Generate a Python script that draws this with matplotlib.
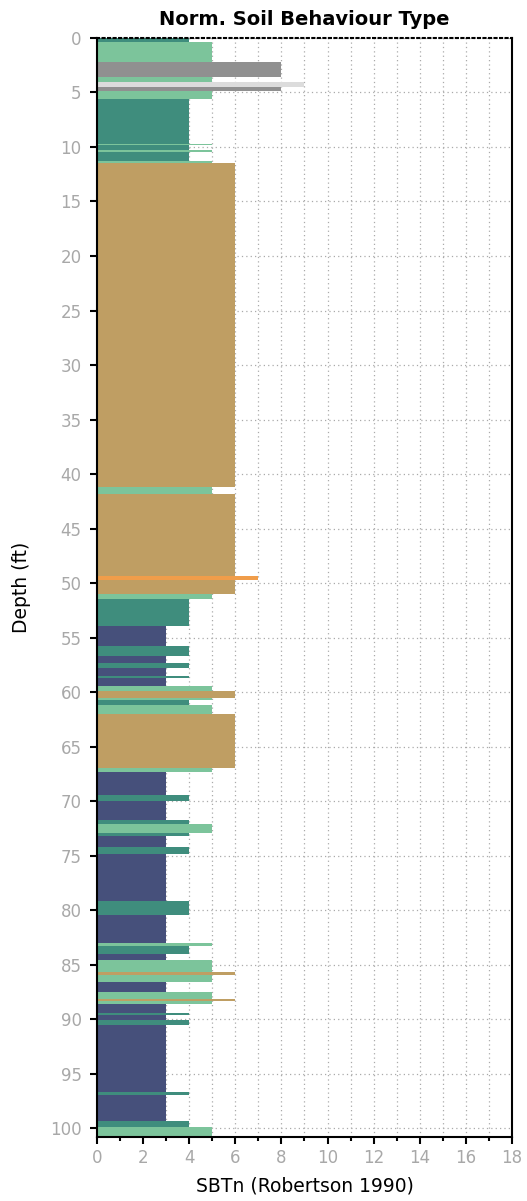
import matplotlib
matplotlib.use('Agg')
from matplotlib import pyplot as plt
from matplotlib.ticker import MultipleLocator

# layer tops (ft) and SBTn zone; each layer ends where the next begins
tops = [0.0, 0.4, 2.2, 3.55, 4.0, 4.5, 4.9, 5.6, 9.7, 9.85, 10.3, 10.45, 11.3, 11.5,
        41.2, 41.8, 49.35, 49.75, 51.0, 51.45, 53.95, 55.8, 56.7, 57.3, 57.8, 58.5,
        58.7, 59.4, 59.9, 60.5, 60.7, 61.2, 62.0, 67.0, 67.3, 69.4, 70.0, 71.7, 72.1,
        72.95, 73.2, 74.2, 74.8, 79.2, 80.45, 83.05, 83.3, 84.0, 84.6, 85.7, 85.9,
        86.6, 87.5, 88.1, 88.3, 88.6, 89.4, 89.6, 90.1, 90.55, 96.7, 96.95, 99.3, 99.9]
zones = [4, 5, 8, 5, 9, 8, 5, 4, 5, 4, 5, 4, 5, 6,
         5, 6, 7, 6, 5, 4, 3, 4, 3, 4, 3, 4,
         3, 5, 6, 5, 4, 5, 6, 5, 3, 4, 3, 4, 5,
         4, 3, 4, 3, 4, 3, 5, 4, 3, 5, 6, 5,
         3, 5, 6, 5, 3, 4, 3, 4, 3, 4, 3, 4, 5]
end_depth = 100.8

zone_colors = {3: '#46507b', 4: '#3f8d7d', 5: '#7cc49b', 6: '#bf9e63',
               7: '#f09d4a', 8: '#909090', 9: '#dcdcdc'}

bottoms = tops[1:] + [end_depth]
heights = [b - t for t, b in zip(tops, bottoms)]
colors = [zone_colors[z] for z in zones]

fig = plt.figure(figsize=(5.27, 12.01), dpi=100)
ax = fig.add_axes([0.184, 0.0533, 0.7875, 0.9151])

ax.barh(tops, zones, height=heights, left=0, align='edge', color=colors,
        linewidth=0, zorder=2)

ax.set_xlim(0, 18)
ax.set_ylim(end_depth, 0)
ax.xaxis.set_major_locator(MultipleLocator(2))
ax.xaxis.set_minor_locator(MultipleLocator(1))
ax.yaxis.set_major_locator(MultipleLocator(5))

ax.grid(True, which='both', axis='x', linestyle=(0, (1, 2.5)), color='#aaaaaa', linewidth=0.9, zorder=1)
ax.grid(True, which='major', axis='y', linestyle=(0, (1, 2.5)), color='#aaaaaa', linewidth=0.9, zorder=1)

ax.tick_params(axis='both', which='major', direction='out', length=5, width=1.5,
               labelsize=12, labelcolor='#a8a8a8', color='black')
ax.tick_params(axis='y', which='major', pad=6)
ax.tick_params(axis='x', which='minor', direction='out', length=3, width=1.5, color='black')

for side in ['left', 'bottom', 'right']:
    ax.spines[side].set_linewidth(1.5)
ax.spines['top'].set_linestyle(':')
ax.spines['top'].set_linewidth(1.5)

ax.set_title('Norm. Soil Behaviour Type', fontsize=14, fontweight='bold', pad=9)
ax.set_xlabel('SBTn (Robertson 1990)', fontsize=13.5, labelpad=7)
ax.set_ylabel('Depth (ft)', fontsize=13.5, labelpad=14)

plt.savefig('out.png', dpi=100)
